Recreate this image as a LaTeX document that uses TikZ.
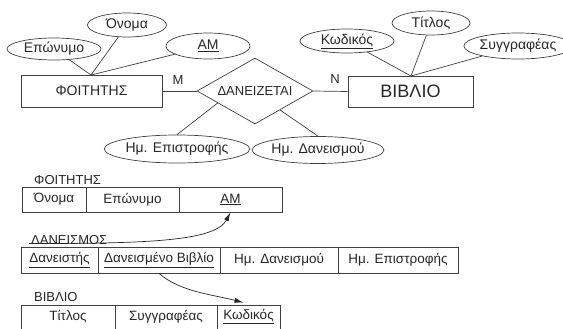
\documentclass[tikz,border=0pt]{standalone}
\usepackage{fontspec}
\setmainfont{Liberation Sans}
\usetikzlibrary{shapes.geometric,arrows.meta,calc}
\begin{document}
\begin{tikzpicture}[x=1pt,y=-1pt,
  every node/.style={font=\fontsize{14}{16}\selectfont, text=black!85},
  attr/.style={ellipse, draw=black!75, line width=0.7pt, inner sep=0pt},
  ent/.style={rectangle, draw=black!75, line width=0.7pt, inner sep=0pt},
  rel/.style={diamond, draw=black!75, line width=0.7pt, inner sep=0pt, aspect=1.75},
  conn/.style={draw=black!75, line width=0.7pt},
  cell/.style={rectangle, draw=black!75, line width=0.7pt, inner sep=0pt, font=\fontsize{13.5}{15}\selectfont},
  tlabel/.style={anchor=west, inner sep=0pt, font=\fontsize{13}{15}\selectfont},
  ref/.style={draw=black!85, line width=0.7pt, -{Latex[length=9pt,width=5pt]}}
]
\useasboundingbox (0,0) rectangle (563,329);

% ---- ER diagram ----
\node[ent, minimum width=141pt, minimum height=32pt] (foit) at (91.5,91) {ΦΟΙΤΗΤΗΣ};
\node[ent, minimum width=125pt, minimum height=31pt, font=\fontsize{18}{20}\selectfont] (vivl) at (410.5,91.5) {ΒΙΒΛΙΟ};
\node[rel, minimum width=116pt, minimum height=66pt, font=\fontsize{13}{15}\selectfont] (dia) at (255,91) {ΔΑΝΕΙΖΕΤΑΙ};

\node[attr, minimum width=94pt, minimum height=22pt] (epon) at (54,49) {Επώνυμο};
\node[attr, minimum width=79pt, minimum height=24pt] (onoma) at (127,25) {Όνομα};
\node[attr, minimum width=84pt, minimum height=26pt] (am) at (208,46) {\underline{ΑΜ}};
\node[attr, minimum width=124pt, minimum height=28pt] (ret) at (177,149) {Ημ. Επιστροφής};
\node[attr, minimum width=126pt, minimum height=27pt] (rda) at (318,150) {Ημ. Δανεισμού};
\node[attr, minimum width=94pt, minimum height=24pt] (kod) at (347,41) {\underline{Κωδικός}};
\node[attr, minimum width=78pt, minimum height=24pt] (titl) at (431,23) {Τίτλος};
\node[attr, minimum width=86pt, minimum height=26pt] (syng) at (518,46) {Συγγραφέας};

\coordinate (fa) at (91,75);
\coordinate (fb) at (411,76);
\draw[conn] (epon) -- (fa);
\draw[conn] (onoma) -- (fa);
\draw[conn] (am) -- (fa);
\draw[conn] (kod) -- (fb);
\draw[conn] (titl) -- (fb);
\draw[conn] (syng) -- (fb);

\draw[conn] (foit.east) -- (dia.west);
\draw[conn] (dia.east) -- (vivl.west);
\draw[conn] ($(dia.south)!0.64!(dia.west)$) -- (ret.north);
\draw[conn] ($(dia.south)!0.43!(dia.east)$) -- (rda.north);

\node[font=\fontsize{13}{15}\selectfont] (lm) at (178,80) {Μ};
\node[font=\fontsize{13}{15}\selectfont] (ln) at (335,79) {Ν};

% ---- Relational schema ----
\node[tlabel] (l1) at (34,180) {ΦΟΙΤΗΤΗΣ};
\node[cell, minimum width=64pt, minimum height=25pt] (t1a) at (54,199.5) {Όνομα};
\node[cell, minimum width=93pt, minimum height=25pt] (t1b) at (132.5,199.5) {Επώνυμο};
\node[cell, minimum width=103pt, minimum height=25pt] (t1c) at (230.5,199.5) {\underline{ΑΜ}};

\node[tlabel] (l2) at (31,240) {ΔΑΝΕΙΣΜΟΣ};
\node[cell, minimum width=77pt, minimum height=26pt] (t2a) at (59.5,260) {\underline{Δανειστής}};
\node[cell, minimum width=122pt, minimum height=26pt] (t2b) at (159,260) {\underline{Δανεισμένο Βιβλίο}};
\node[cell, minimum width=118pt, minimum height=26pt] (t2c) at (279,260) {Ημ. Δανεισμού};
\node[cell, minimum width=120pt, minimum height=26pt] (t2d) at (398,260) {Ημ. Επιστροφής};

\node[tlabel] (l3) at (34,297) {ΒΙΒΛΙΟ};
\node[cell, minimum width=94pt, minimum height=24pt] (t3a) at (68,317) {Τίτλος};
\node[cell, minimum width=102pt, minimum height=24pt] (t3b) at (166,317) {Συγγραφέας};
\node[cell, minimum width=63pt, minimum height=24pt] (t3c) at (248.5,317) {\underline{Κωδικός}};

\coordinate (s1) at (29,243.5);
\draw[ref] (s1) .. controls (140,243.5) and (215,242) .. (t1c.south);
\draw[ref] (t2b.south) .. controls (180,292) and (215,295) .. ([xshift=-5pt,yshift=2pt]t3c.north);
\end{tikzpicture}
\end{document}
